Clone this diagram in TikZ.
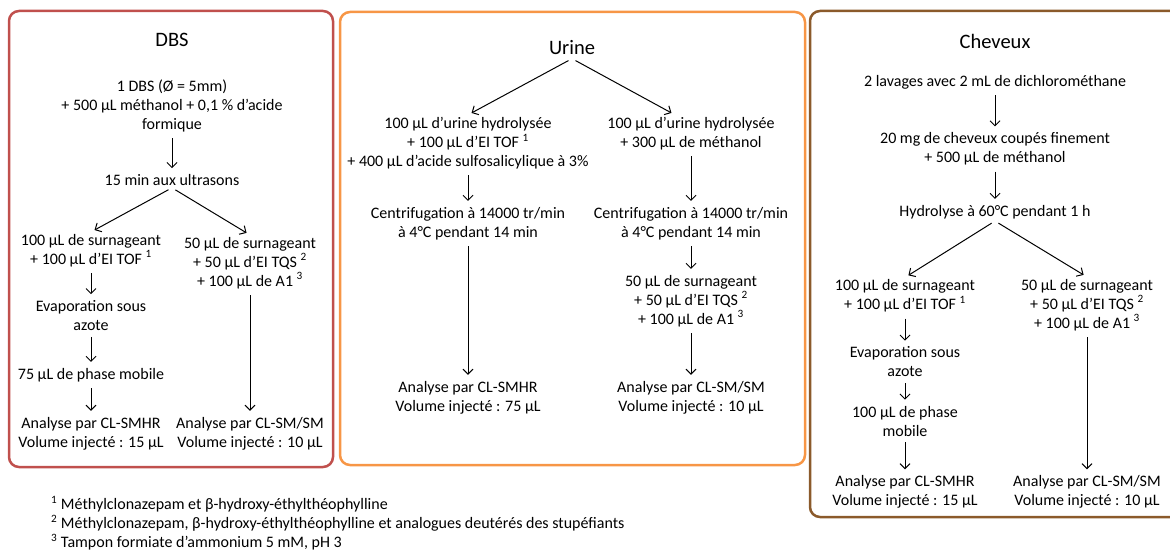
\documentclass[tikz,border=0pt]{standalone}
\usepackage{fontspec}
\setmainfont{Carlito}
\usepackage{xcolor}
\usetikzlibrary{arrows.meta}
\definecolor{dbs}{HTML}{C0504D}
\definecolor{urine}{HTML}{F79646}
\definecolor{hair}{HTML}{8B5A2B}
\tikzset{
  % node options
  txt/.style={align=center,inner sep=2pt,font=\fontsize{16}{19}\selectfont},
  note/.style={txt,align=left,anchor=west,inner sep=0pt},
  title/.style={font=\fontsize{20.5}{22}\selectfont},
  panel/.style={rounded corners=10pt,line width=2.5pt},
  % path options
  flow/.style={-{Straight Barb[length=5pt,width=10pt]},line width=1pt,shorten <=4pt,shorten >=4pt},
}

\begin{document}
\begin{tikzpicture}[x=1pt,y=-1pt]
    \useasboundingbox (0,0) rectangle (1170,553);
    % panels
    \draw[panel,dbs] (9,11) rectangle (333,467);
    \draw[panel,urine] (340,12) rectangle (805,465);
    \draw[panel,hair] (810,11) rectangle (1190,517);
    % DBS
    \node[title] (dbsT) at (172,40) {DBS};
    \node[txt] (dbs1) at (172,106) {1 DBS (Ø = 5mm)\\+ 500 µL méthanol + 0,1 \% d’acide\\formique};
    \node[txt] (dbs2) at (172,180) {15 min aux ultrasons};
    \node[txt] (dbsL1) at (91,250.5) {100 µL de surnageant\\+ 100 µL d’EI TOF \textsuperscript{1}};
    \node[txt] (dbsL2) at (91,315.5) {Evaporation sous\\azote};
    \node[txt] (dbsL3) at (91,375) {75 µL de phase mobile};
    \node[txt] (dbsL4) at (91,433.5) {Analyse par CL-SMHR\\Volume injecté : 15 µL};
    \node[txt] (dbsR1) at (250,263) {50 µL de surnageant\\+ 50 µL d’EI TQS \textsuperscript{2}\\+ 100 µL de A1 \textsuperscript{3}};
    \node[txt] (dbsR2) at (250,433.5) {Analyse par CL-SM/SM\\Volume injecté : 10 µL};
    \draw[flow] (dbs1) -- (dbs2);
    \draw[flow] (dbs2.south) -- (dbsL1.north);
    \draw[flow] (dbs2.south) -- (dbsR1.north);
    \draw[flow] (dbsL1) -- (dbsL2);
    \draw[flow] (dbsL2) -- (dbsL3);
    \draw[flow] (dbsL3) -- (dbsL4);
    \draw[flow] (dbsR1) -- (dbsR2);
    % Urine
    \node[title] (uriT) at (572,48) {Urine};
    \node[txt] (uriL1) at (468,143) {100 µL d’urine hydrolysée\\+ 100 µL d’EI TOF \textsuperscript{1}\\+ 400 µL d’acide sulfosalicylique à 3\%};
    \node[txt] (uriL2) at (468,223.5) {Centrifugation à 14000 tr/min\\à 4°C pendant 14 min};
    \node[txt] (uriL3) at (468,397.5) {Analyse par CL-SMHR\\Volume injecté : 75 µL};
    \node[txt] (uriR1) at (691,133.5) {100 µL d’urine hydrolysée\\+ 300 µL de méthanol};
    \node[txt] (uriR2) at (691,223.5) {Centrifugation à 14000 tr/min\\à 4°C pendant 14 min};
    \node[txt] (uriR3) at (691,301) {50 µL de surnageant\\+ 50 µL d’EI TQS \textsuperscript{2}\\+ 100 µL de A1 \textsuperscript{3}};
    \node[txt] (uriR4) at (691,397.5) {Analyse par CL-SM/SM\\Volume injecté : 10 µL};
    \draw[flow] (uriT.south) -- (uriL1.north);
    \draw[flow] (uriT.south) -- ([xshift=-16pt]uriR1.north);
    \draw[flow] (uriL1) -- (uriL2);
    \draw[flow] (uriL2) -- (uriL3);
    \draw[flow] (uriR1) -- (uriR2);
    \draw[flow] (uriR2) -- (uriR3);
    \draw[flow] (uriR3) -- (uriR4);
    % Cheveux
    \node[title] (hairT) at (995,41) {Cheveux};
    \node[txt] (hair1) at (995,82) {2 lavages avec 2 mL de dichlorométhane};
    \node[txt] (hair2) at (995,149) {20 mg de cheveux coupés finement\\+ 500 µL de méthanol};
    \node[txt] (hair3) at (995,212) {Hydrolyse à 60°C pendant 1 h};
    \node[txt] (hairL1) at (905,296) {100 µL de surnageant\\+ 100 µL d’EI TOF \textsuperscript{1}};
    \node[txt] (hairL2) at (905,362) {Evaporation sous\\azote};
    \node[txt] (hairL3) at (905,421) {100 µL de phase\\mobile};
    \node[txt] (hairL4) at (905,492) {Analyse par CL-SMHR\\Volume injecté : 15 µL};
    \node[txt] (hairR1) at (1087,305) {50 µL de surnageant\\+ 50 µL d’EI TQS \textsuperscript{2}\\+ 100 µL de A1 \textsuperscript{3}};
    \node[txt] (hairR2) at (1087,492) {Analyse par CL-SM/SM\\Volume injecté : 10 µL};
    \draw[flow] (hair1) -- (hair2);
    \draw[flow] (hair2) -- (hair3);
    \draw[flow] (hair3.south) -- (hairL1.north);
    \draw[flow] (hair3.south) -- (hairR1.north);
    \draw[flow] (hairL1) -- (hairL2);
    \draw[flow] (hairL2) -- (hairL3);
    \draw[flow] (hairL3) -- (hairL4);
    \draw[flow] (hairR1) -- (hairR2);
    % footnotes
    \node[note] (notes) at (51,523) {\textsuperscript{1} Méthylclonazepam et β-hydroxy-éthylthéophylline\\\textsuperscript{2} Méthylclonazepam, β-hydroxy-éthylthéophylline et analogues deutérés des stupéfiants\\\textsuperscript{3} Tampon formiate d’ammonium 5 mM, pH 3};
  \end{tikzpicture}
\end{document}
